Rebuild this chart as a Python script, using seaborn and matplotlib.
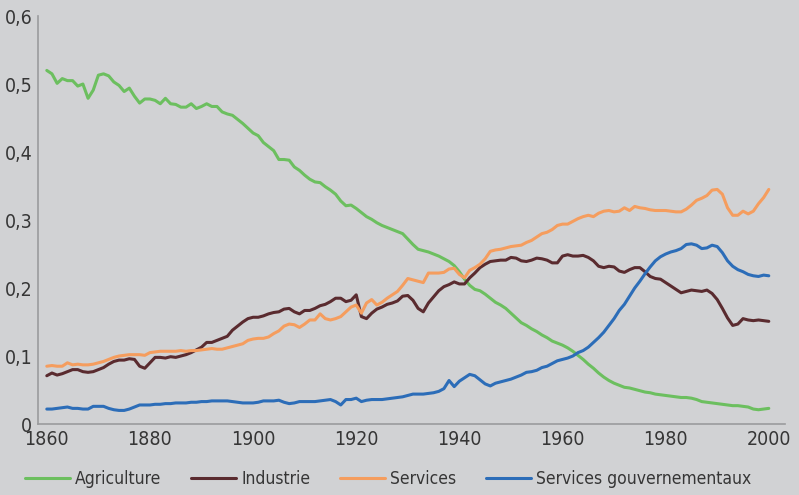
import numpy as np
import pandas as pd
import matplotlib
matplotlib.use("Agg")
import matplotlib.pyplot as plt
from matplotlib import font_manager as fm
from matplotlib.ticker import FuncFormatter
import seaborn as sns

# annees 1860-2000
annees = list(range(1860, 2001))

agriculture = [
    0.520, 0.515, 0.501, 0.508, 0.505, 0.505, 0.497, 0.500, 0.479, 0.491,
    0.513, 0.515, 0.512, 0.503, 0.498, 0.489, 0.494, 0.482, 0.472, 0.478,
    0.478, 0.476, 0.471, 0.479, 0.471, 0.470, 0.466, 0.466, 0.471, 0.464,
    0.467, 0.471, 0.467, 0.467, 0.459, 0.456, 0.454, 0.448, 0.442, 0.435,
    0.428, 0.424, 0.414, 0.408, 0.402, 0.389, 0.389, 0.388, 0.378, 0.373,
    0.366, 0.360, 0.356, 0.355, 0.349, 0.344, 0.338, 0.328, 0.321, 0.322,
    0.317, 0.311, 0.305, 0.301, 0.296, 0.292, 0.289, 0.286, 0.283, 0.280,
    0.272, 0.264, 0.257, 0.255, 0.253, 0.250, 0.247, 0.243, 0.239, 0.233,
    0.224, 0.213, 0.204, 0.198, 0.196, 0.191, 0.185, 0.179, 0.175, 0.170,
    0.163, 0.156, 0.149, 0.145, 0.140, 0.136, 0.131, 0.127, 0.122, 0.119,
    0.116, 0.112, 0.107, 0.101, 0.095, 0.088, 0.082, 0.075, 0.069, 0.064,
    0.060, 0.057, 0.054, 0.053, 0.051, 0.049, 0.047, 0.046, 0.044, 0.043,
    0.042, 0.041, 0.040, 0.039, 0.039, 0.038, 0.036, 0.033, 0.032, 0.031,
    0.030, 0.029, 0.028, 0.027, 0.027, 0.026, 0.025, 0.022, 0.021, 0.022,
    0.023,
]

industrie = [
    0.071, 0.075, 0.072, 0.074, 0.077, 0.080, 0.080, 0.077, 0.076, 0.077,
    0.080, 0.083, 0.088, 0.092, 0.094, 0.094, 0.096, 0.095, 0.085, 0.082,
    0.090, 0.098, 0.098, 0.097, 0.099, 0.098, 0.100, 0.102, 0.105, 0.109,
    0.113, 0.120, 0.120, 0.123, 0.126, 0.129, 0.138, 0.144, 0.150, 0.155,
    0.157, 0.157, 0.159, 0.162, 0.164, 0.165, 0.169, 0.170, 0.165, 0.162,
    0.167, 0.167, 0.170, 0.174, 0.176, 0.180, 0.185, 0.185, 0.180, 0.182,
    0.190, 0.158, 0.155, 0.163, 0.169, 0.172, 0.176, 0.178, 0.181, 0.188,
    0.189, 0.182, 0.170, 0.165, 0.178, 0.187, 0.196, 0.202, 0.205, 0.209,
    0.206, 0.206, 0.215, 0.222, 0.230, 0.235, 0.239, 0.240, 0.241, 0.241,
    0.245, 0.244, 0.240, 0.239, 0.241, 0.244, 0.243, 0.241, 0.237, 0.237,
    0.247, 0.249, 0.247, 0.247, 0.248, 0.245, 0.240, 0.232, 0.230, 0.232,
    0.231, 0.225, 0.223, 0.227, 0.230, 0.230, 0.224, 0.217, 0.214, 0.213,
    0.208, 0.203, 0.198, 0.193, 0.195, 0.197, 0.196, 0.195, 0.197, 0.192,
    0.183, 0.170, 0.156, 0.145, 0.147, 0.155, 0.153, 0.152, 0.153, 0.152,
    0.151,
]

services = [
    0.085, 0.086, 0.085, 0.085, 0.090, 0.087, 0.088, 0.087, 0.087, 0.088,
    0.090, 0.092, 0.095, 0.098, 0.100, 0.101, 0.102, 0.102, 0.102, 0.101,
    0.105, 0.106, 0.107, 0.107, 0.107, 0.107, 0.108, 0.107, 0.108, 0.108,
    0.109, 0.110, 0.111, 0.110, 0.110, 0.112, 0.114, 0.116, 0.118, 0.123,
    0.125, 0.126, 0.126, 0.128, 0.133, 0.137, 0.144, 0.147, 0.146, 0.142,
    0.147, 0.153, 0.153, 0.162, 0.155, 0.153, 0.155, 0.158, 0.165, 0.172,
    0.175, 0.163, 0.178, 0.183, 0.175, 0.179, 0.185, 0.190, 0.195, 0.204,
    0.214, 0.212, 0.210, 0.208, 0.222, 0.222, 0.222, 0.223, 0.228, 0.229,
    0.220, 0.215, 0.226, 0.230, 0.235, 0.243, 0.254, 0.256, 0.257, 0.259,
    0.261, 0.262, 0.263, 0.267, 0.270, 0.275, 0.280, 0.282, 0.286, 0.292,
    0.294, 0.294, 0.298, 0.302, 0.305, 0.307, 0.305, 0.310, 0.313, 0.314,
    0.312, 0.313, 0.318, 0.314, 0.320, 0.318, 0.317, 0.315, 0.314, 0.314,
    0.314, 0.313, 0.312, 0.312, 0.316, 0.322, 0.329, 0.332, 0.336, 0.344,
    0.345, 0.338, 0.318, 0.307, 0.307, 0.313, 0.309, 0.313, 0.324, 0.333,
    0.345,
]

services_gouv = [
    0.022, 0.022, 0.023, 0.024, 0.025, 0.023, 0.023, 0.022, 0.022, 0.026,
    0.026, 0.026, 0.023, 0.021, 0.020, 0.020, 0.022, 0.025, 0.028, 0.028,
    0.028, 0.029, 0.029, 0.030, 0.030, 0.031, 0.031, 0.031, 0.032, 0.032,
    0.033, 0.033, 0.034, 0.034, 0.034, 0.034, 0.033, 0.032, 0.031, 0.031,
    0.031, 0.032, 0.034, 0.034, 0.034, 0.035, 0.032, 0.030, 0.031, 0.033,
    0.033, 0.033, 0.033, 0.034, 0.035, 0.036, 0.033, 0.028, 0.036, 0.036,
    0.038, 0.033, 0.035, 0.036, 0.036, 0.036, 0.037, 0.038, 0.039, 0.040,
    0.042, 0.044, 0.044, 0.044, 0.045, 0.046, 0.048, 0.052, 0.064, 0.055,
    0.063, 0.068, 0.073, 0.071, 0.065, 0.059, 0.056, 0.060, 0.062, 0.064,
    0.066, 0.069, 0.072, 0.076, 0.077, 0.079, 0.083, 0.085, 0.089, 0.093,
    0.095, 0.097, 0.100, 0.105, 0.108, 0.113, 0.120, 0.127, 0.135, 0.145,
    0.155, 0.167, 0.176, 0.188, 0.200, 0.210, 0.221, 0.231, 0.240, 0.246,
    0.250, 0.253, 0.255, 0.258, 0.264, 0.265, 0.263, 0.258, 0.259, 0.263,
    0.261, 0.252, 0.240, 0.232, 0.227, 0.224, 0.220, 0.218, 0.217, 0.219,
    0.218,
]

secteurs = ["Agriculture", "Industrie", "Services", "Services gouvernementaux"]
couleurs = ["#6cbf5f", "#5a2b2f", "#f59d5e", "#2c6db8"]
annees_ticks = [1860, 1880, 1900, 1920, 1940, 1960, 1980, 2000]
y_ticks = [0, 0.1, 0.2, 0.3, 0.4, 0.5, 0.6]

df = pd.DataFrame({"annee": annees, "Agriculture": agriculture, "Industrie": industrie,
                   "Services": services, "Services gouvernementaux": services_gouv})
df_long = df.melt(id_vars="annee", var_name="secteur", value_name="part")

sns.set_style("white")
fond = "#d1d2d4"

# police etroite si disponible, sinon Lato
etroites = [f for f in fm.fontManager.ttflist
            if ("Narrow" in f.fname or "Condensed" in f.fname)
            and f.weight in (400, "normal", "regular") and f.style == "normal"]
etroites.sort(key=lambda f: 0 if "Liberation" in f.fname else 1)
if etroites:
    plt.rcParams["font.family"] = [etroites[0].name, "DejaVu Sans"]
    plt.rcParams["font.stretch"] = etroites[0].stretch
    taille, taille_leg = 14, 12.5
else:
    plt.rcParams["font.family"] = ["Lato", "DejaVu Sans"]
    taille, taille_leg = 12, 11

fig = plt.figure(figsize=(7.99, 4.95), dpi=100, facecolor=fond)
ax = fig.add_axes([0.0476, 0.1434, 0.9346, 0.8242])
ax.set_facecolor(fond)

sns.lineplot(data=df_long, x="annee", y="part", hue="secteur", hue_order=secteurs,
             palette=couleurs, linewidth=2.2, ax=ax)

ax.set_xlim(1858.3, 2003.1)
ax.set_ylim(0, 0.6)
ax.set_xticks(annees_ticks)
ax.set_yticks(y_ticks)
ax.yaxis.set_major_formatter(FuncFormatter(lambda v, p: "0" if v == 0 else f"{v:.1f}".replace(".", ",")))
ax.tick_params(axis="both", length=0, labelsize=taille, labelcolor="#363636")
ax.tick_params(axis="x", pad=4)
ax.tick_params(axis="y", pad=4)
ax.set_xlabel("")
ax.set_ylabel("")
for s in ["top", "right"]:
    ax.spines[s].set_visible(False)
for s in ["left", "bottom"]:
    ax.spines[s].set_color("#9a9b9d")
    ax.spines[s].set_linewidth(1.2)

ax.legend_.remove()
handles, labels = ax.get_legend_handles_labels()
fig.legend(handles, labels, loc="center left", bbox_to_anchor=(0.0307, 0.032), ncol=4,
           frameon=False, fontsize=taille_leg, handlelength=2.6, handletextpad=0.3,
           columnspacing=1.7, borderpad=0, borderaxespad=0, labelcolor="#363636")

fig.savefig("out.png", dpi=100, facecolor=fond)
